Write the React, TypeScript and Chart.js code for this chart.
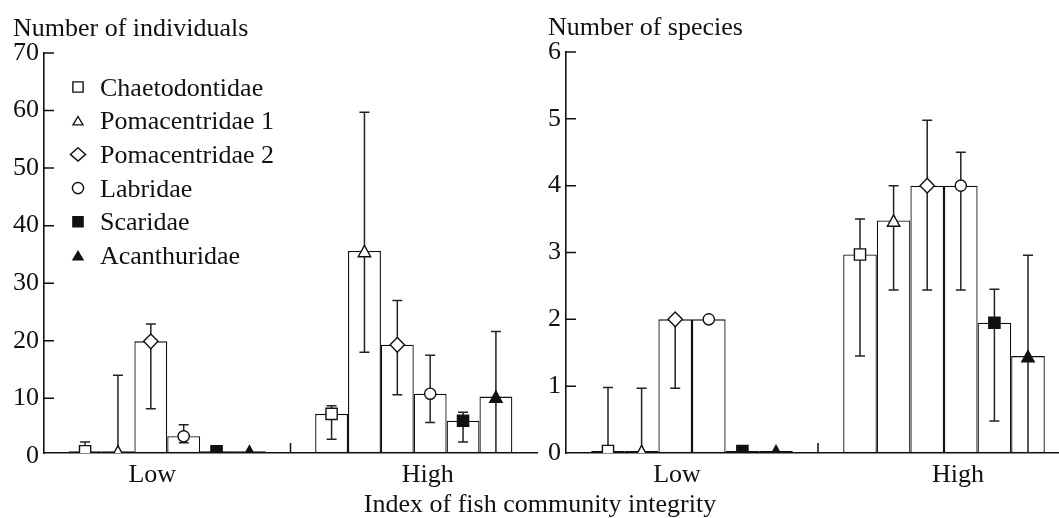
import React, { useEffect, useRef } from 'react';
import { Chart, registerables } from 'chart.js';

Chart.register(...registerables);

// ---------- data ----------
const categories = ['Low', 'High'];
const families = ['Chaetodontidae', 'Pomacentridae 1', 'Pomacentridae 2', 'Labridae', 'Scaridae', 'Acanthuridae'];
const markerStyles = ['square', 'triangle', 'diamond', 'circle', 'squareFilled', 'triangleFilled'];

const individualsLow = [0.8, 0.8, 19.9, 3.4, 0.8, 0.8];
const individualsHigh = [7.3, 35.6, 19.3, 10.8, 6.1, 10.3];
const individualsLowErr: (number[] | null)[] = [[0, 2.4], [0, 14.0], [8.2, 22.9], [2.3, 5.4], null, null];
const individualsHighErr: (number[] | null)[] = [[2.9, 8.7], [18.0, 59.7], [10.6, 27.0], [5.8, 17.5], [2.4, 7.6], [0, 21.6]];
const individualsTicks = [0, 10, 20, 30, 40, 50, 60, 70];

const speciesLow = [0.03, 0.03, 2, 2, 0.03, 0.03];
const speciesHigh = [2.97, 3.48, 4, 4, 1.95, 1.45];
const speciesLowErr: (number[] | null)[] = [[0, 0.98], [0, 0.97], [0.97, 2], null, null, null];
const speciesHighErr: (number[] | null)[] = [[1.45, 3.5], [2.44, 4.0], [2.44, 4.98], [2.44, 4.5], [0.48, 2.45], [0, 2.96]];
const speciesTicks = [0, 1, 2, 3, 4, 5, 6];

const xTitle = 'Index of fish community integrity';

// ---------- style ----------
const INK = '#111111';
const FONT_FAMILY = '"Liberation Serif", "Times New Roman", Times, serif';
const FONT = `26px ${FONT_FAMILY}`;
const labelShift = [-15, 14];

function drawMarker(ctx: CanvasRenderingContext2D, style: string, x: number, y: number, legend: boolean) {
  const filled = style.endsWith('Filled');
  const base = style.replace('Filled', '');
  ctx.save();
  ctx.lineWidth = 1.4;
  ctx.strokeStyle = INK;
  ctx.fillStyle = filled ? INK : '#ffffff';
  ctx.lineJoin = 'miter';
  ctx.beginPath();
  if (base === 'square') {
    const h = legend ? 5.1 : 5.6;
    ctx.rect(x - h, y - h, 2 * h, 2 * h);
  } else if (base === 'triangle') {
    const hw = legend ? 5 : 6.2;
    const up = legend ? 4.2 : 5.6;
    const dn = legend ? 4.2 : 5.8;
    ctx.moveTo(x, y - up);
    ctx.lineTo(x + hw, y + dn);
    ctx.lineTo(x - hw, y + dn);
    ctx.closePath();
  } else if (base === 'diamond') {
    const hw = legend ? 7.6 : 7.2;
    const hh = legend ? 6.6 : 7.4;
    ctx.moveTo(x, y - hh);
    ctx.lineTo(x + hw, y);
    ctx.lineTo(x, y + hh);
    ctx.lineTo(x - hw, y);
    ctx.closePath();
  } else {
    ctx.arc(x, y, 5.6, 0, Math.PI * 2);
  }
  ctx.fill();
  ctx.stroke();
  ctx.restore();
}

interface PanelCfg {
  title: string;
  lowErr: (number[] | null)[];
  highErr: (number[] | null)[];
  ticks: number[];
  legend: boolean;
}

function decoPlugin(cfg: PanelCfg) {
  return {
    id: 'fishDeco',
    afterDatasetsDraw(chart: any) {
      const { ctx, chartArea } = chart;
      const ys = chart.scales.y;
      ctx.save();
      ctx.beginPath();
      ctx.rect(chartArea.left, chartArea.top - 30, chartArea.right - chartArea.left, chartArea.bottom - chartArea.top + 30);
      ctx.clip();
      // error bars
      chart.data.datasets.forEach((_ds: any, i: number) => {
        const meta = chart.getDatasetMeta(i);
        meta.data.forEach((bar: any, j: number) => {
          const err = (j === 0 ? cfg.lowErr : cfg.highErr)[i];
          if (!err) return;
          const y1 = ys.getPixelForValue(err[0]);
          const y2 = ys.getPixelForValue(err[1]);
          ctx.strokeStyle = '#222222';
          ctx.lineWidth = 1.5;
          ctx.beginPath();
          ctx.moveTo(bar.x, y1);
          ctx.lineTo(bar.x, y2);
          ctx.moveTo(bar.x - 5, y1);
          ctx.lineTo(bar.x + 5, y1);
          ctx.moveTo(bar.x - 5, y2);
          ctx.lineTo(bar.x + 5, y2);
          ctx.stroke();
        });
      });
      // markers at bar tops
      chart.data.datasets.forEach((_ds: any, i: number) => {
        const meta = chart.getDatasetMeta(i);
        meta.data.forEach((bar: any) => drawMarker(ctx, markerStyles[i], bar.x, bar.y, false));
      });
      ctx.restore();
    },
    afterDraw(chart: any) {
      const { ctx, chartArea } = chart;
      const ys = chart.scales.y;
      const xs = chart.scales.x;
      ctx.save();
      ctx.strokeStyle = INK;
      ctx.lineWidth = 1.5;
      // inward y ticks
      ctx.beginPath();
      cfg.ticks.forEach((v) => {
        const py = ys.getPixelForValue(v);
        if (py < chartArea.top - 1 || py > chartArea.bottom - 1.5) return;
        ctx.moveTo(chartArea.left, py);
        ctx.lineTo(chartArea.left + 10, py);
      });
      // inward tick between the two categories
      const mid = (xs.getPixelForTick(0) + xs.getPixelForTick(1)) / 2;
      ctx.moveTo(mid, chartArea.bottom);
      ctx.lineTo(mid, chartArea.bottom - 10);
      ctx.stroke();

      ctx.fillStyle = INK;
      ctx.font = FONT;
      ctx.textBaseline = 'alphabetic';
      // category labels
      ctx.textAlign = 'center';
      categories.forEach((c, i) => {
        ctx.fillText(c, xs.getPixelForTick(i) + labelShift[i], chartArea.bottom + 29);
      });
      // y title, aligned with widest tick label
      ctx.textAlign = 'left';
      let maxW = 0;
      ys.ticks.forEach((t: any) => {
        maxW = Math.max(maxW, ctx.measureText(String(t.label)).width);
      });
      ctx.fillText(cfg.title, chartArea.left - 5 - maxW, chartArea.top - 17.5);
      // legend
      if (cfg.legend) {
        chart.data.datasets.forEach((ds: any, i: number) => {
          const cy = chartArea.top + 34 + i * 33.7;
          drawMarker(ctx, markerStyles[i], chartArea.left + 34, cy, true);
          ctx.fillStyle = INK;
          ctx.fillText(ds.label, chartArea.left + 56, cy + 8.5);
        });
      }
      ctx.restore();
    },
  };
}

function makeConfig(
  low: number[],
  high: number[],
  cfg: PanelCfg,
  yMin: number,
  yMax: number,
  axisWidth: number,
  padTop: number,
  padRight: number
): any {
  return {
    type: 'bar',
    data: {
      labels: categories,
      datasets: families.map((f, i) => ({
        label: f,
        data: [low[i], high[i]],
        base: yMin,
        backgroundColor: '#ffffff',
        borderColor: INK,
        borderWidth: 1.3,
        borderSkipped: false,
        categoryPercentage: 0.8,
        barPercentage: 1.0,
      })),
    },
    options: {
      responsive: false,
      animation: false,
      events: [],
      layout: { padding: { left: 0, right: padRight, top: padTop, bottom: 0 } },
      plugins: {
        legend: { display: false },
        tooltip: { enabled: false },
        title: { display: false },
      },
      scales: {
        x: {
          type: 'category',
          offset: true,
          grid: { display: false, drawTicks: false },
          border: { display: true, color: INK, width: 1.6 },
          ticks: { display: false },
          afterFit: (s: any) => {
            s.height = 65;
          },
        },
        y: {
          type: 'linear',
          min: yMin,
          max: yMax,
          grid: { display: false, drawTicks: false },
          border: { display: true, color: INK, width: 1.6 },
          ticks: {
            color: INK,
            padding: 5,
            font: { family: FONT_FAMILY, size: 26 },
          },
          afterBuildTicks: (s: any) => {
            s.ticks = cfg.ticks.map((v) => ({ value: v }));
          },
          afterFit: (s: any) => {
            s.width = axisWidth;
          },
        },
      },
    },
    plugins: [decoPlugin(cfg)],
  };
}

export default function App() {
  const leftRef = useRef<HTMLCanvasElement>(null);
  const rightRef = useRef<HTMLCanvasElement>(null);

  useEffect(() => {
    document.body.style.margin = '0';
    document.documentElement.style.overflow = 'hidden';
    const left = new Chart(
      leftRef.current as HTMLCanvasElement,
      makeConfig(
        individualsLow,
        individualsHigh,
        { title: 'Number of individuals', lowErr: individualsLowErr, highErr: individualsHighErr, ticks: individualsTicks, legend: true },
        0.5,
        70,
        44,
        53,
        8
      )
    );
    const right = new Chart(
      rightRef.current as HTMLCanvasElement,
      makeConfig(
        speciesLow,
        speciesHigh,
        { title: 'Number of species', lowErr: speciesLowErr, highErr: speciesHighErr, ticks: speciesTicks, legend: false },
        0,
        6,
        36,
        52,
        5
      )
    );
    return () => {
      left.destroy();
      right.destroy();
    };
  }, []);

  return (
    <div style={{ position: 'relative', width: 1059, height: 518, overflow: 'hidden', background: '#ffffff' }}>
      <canvas ref={leftRef} width={545} height={518} style={{ position: 'absolute', left: 0, top: 0 }} />
      <canvas ref={rightRef} width={545} height={518} style={{ position: 'absolute', left: 530, top: 0 }} />
      <div
        style={{
          position: 'absolute',
          left: 0,
          top: 491,
          width: 1080,
          textAlign: 'center',
          font: FONT,
          lineHeight: '26px',
          color: INK,
          whiteSpace: 'nowrap',
        }}
      >
        {xTitle}
      </div>
    </div>
  );
}
